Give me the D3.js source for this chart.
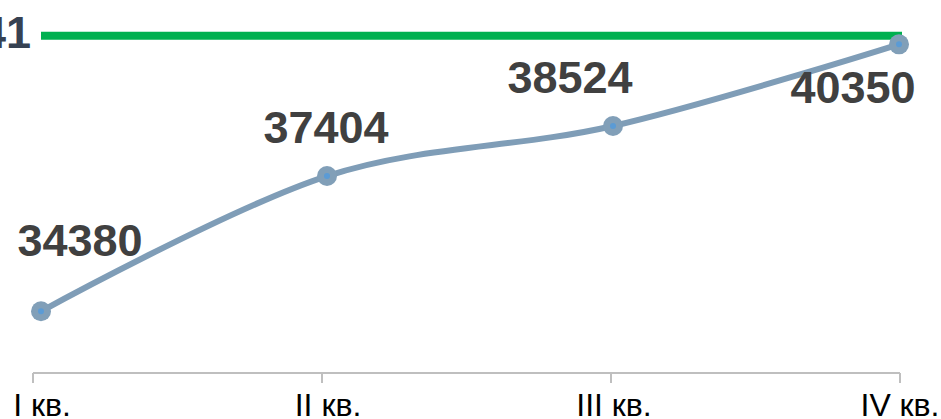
<!DOCTYPE html>
<html>
<head>
<meta charset="utf-8">
<script src="https://cdn.jsdelivr.net/npm/d3@7"></script>
<style>
  html, body { margin: 0; padding: 0; background: #fff; }
  svg { display: block; font-family: "Liberation Sans", Arial, sans-serif; }
</style>
</head>
<body>
<svg id="chart" width="941" height="419"></svg>
<script>
// ---- data ----
const categories = ["I кв.", "II кв.", "III кв.", "IV кв."];
const values = [34380, 37404, 38524, 40350];
const targetValue = 40541;
const targetLabel = "40541";

// ---- layout (label offsets relative to point, px) ----
const labelDx = [39, -1, -43, -46];
const labelDy = [-55, -33, -33, 59];

const W = 941, H = 419;
const svg = d3.select("#chart");

const xAxisScale = d3.scalePoint().domain(categories).range([33, 900]);
const xPoint = d3.scalePoint().domain(categories).range([41, 899]);
const y = d3.scaleLinear().domain([33000, 41000]).range([373, 15.24]);

// axis
const axisG = svg.append("g").attr("transform", `translate(0,${y(33000)})`);
axisG.append("line")
  .attr("x1", xAxisScale(categories[0])).attr("x2", xAxisScale(categories[categories.length - 1]))
  .attr("stroke", "#bfbfbf").attr("stroke-width", 2);
axisG.selectAll("line.tick").data(categories).enter().append("line")
  .attr("class", "tick")
  .attr("x1", d => xAxisScale(d)).attr("x2", d => xAxisScale(d))
  .attr("y1", 0).attr("y2", 10)
  .attr("stroke", "#bfbfbf").attr("stroke-width", 2);
axisG.selectAll("text.cat").data(categories).enter().append("text")
  .attr("class", "cat")
  .attr("x", d => xPoint(d) + 1)
  .attr("y", 43)
  .attr("text-anchor", "middle")
  .attr("font-size", 32)
  .attr("fill", "#000")
  .text(d => d);

// target line
svg.append("line")
  .attr("x1", xPoint(categories[0])).attr("x2", 902)
  .attr("y1", y(targetValue)).attr("y2", y(targetValue))
  .attr("stroke", "#00b050").attr("stroke-width", 8);
svg.append("text")
  .attr("x", 31).attr("y", y(targetValue) + 12)
  .attr("text-anchor", "end")
  .attr("font-size", 45).attr("font-weight", "bold")
  .attr("fill", "#364152")
  .text(targetLabel);

// series line
const line = d3.line()
  .x((d, i) => xPoint(categories[i]))
  .y(d => y(d))
  .curve(d3.curveCardinal.tension(0));
svg.append("path")
  .datum(values)
  .attr("d", line)
  .attr("fill", "none")
  .attr("stroke", "#7f9db7")
  .attr("stroke-width", 6)
  .attr("stroke-linecap", "round");

// markers
const pts = svg.selectAll("g.pt").data(values).enter().append("g").attr("class", "pt");
pts.append("circle")
  .attr("cx", (d, i) => xPoint(categories[i])).attr("cy", d => y(d))
  .attr("r", 10).attr("fill", "#819fb8");
pts.append("circle")
  .attr("cx", (d, i) => xPoint(categories[i])).attr("cy", d => y(d))
  .attr("r", 3).attr("fill", "#5b9bd5");

// data labels
svg.selectAll("text.val").data(values).enter().append("text")
  .attr("class", "val")
  .attr("x", (d, i) => xPoint(categories[i]) + labelDx[i])
  .attr("y", (d, i) => y(d) + labelDy[i])
  .attr("text-anchor", "middle")
  .attr("font-size", 45).attr("font-weight", "bold")
  .attr("fill", "#404040")
  .text(d => d);
</script>
</body>
</html>
